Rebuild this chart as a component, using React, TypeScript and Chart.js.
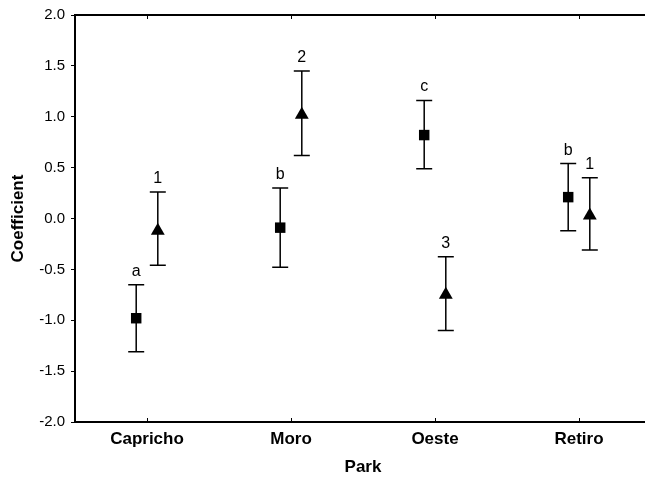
import React, { useEffect, useRef } from "react";
import { Chart, registerables } from "chart.js";

Chart.register(...registerables);

const parks = ["Capricho", "Moro", "Oeste", "Retiro"];

const squareMean = [-0.98, -0.09, 0.82, 0.21];
const squareLow = [-1.31, -0.48, 0.49, -0.12];
const squareHigh = [-0.65, 0.3, 1.16, 0.54];
const squareLabels = ["a", "b", "c", "b"];

const triMean = [-0.12, 1.02, -0.75, 0.03];
const triLow = [-0.46, 0.62, -1.1, -0.31];
const triHigh = [0.26, 1.45, -0.375, 0.4];
const triLabels = ["1", "2", "3", "1"];

const yMin = -2;
const yMax = 2;
const yStep = 0.5;
const groupOffset = 0.075;

const FONT = "'Liberation Sans', Arial, sans-serif";

const errorBarPlugin = {
  id: "errorBars",
  beforeDatasetsDraw(chart: any) {
    const { ctx } = chart;
    const xs = chart.scales.x;
    const ys = chart.scales.y;
    ctx.save();
    ctx.strokeStyle = "#000";
    ctx.lineWidth = 1.5;
    chart.data.datasets.forEach((ds: any) => {
      ds.data.forEach((pt: any, i: number) => {
        const x = xs.getPixelForValue(pt.x);
        const yl = ys.getPixelForValue(ds.errLow[i]);
        const yh = ys.getPixelForValue(ds.errHigh[i]);
        ctx.beginPath();
        ctx.moveTo(x, yl);
        ctx.lineTo(x, yh);
        ctx.moveTo(x - 8, yl);
        ctx.lineTo(x + 8, yl);
        ctx.moveTo(x - 8, yh);
        ctx.lineTo(x + 8, yh);
        ctx.stroke();
      });
    });
    ctx.restore();
  },
  afterDatasetsDraw(chart: any) {
    const { ctx, chartArea } = chart;
    const xs = chart.scales.x;
    const ys = chart.scales.y;
    ctx.save();
    ctx.fillStyle = "#000";
    ctx.font = `16px ${FONT}`;
    ctx.textAlign = "center";
    ctx.textBaseline = "alphabetic";
    chart.data.datasets.forEach((ds: any) => {
      ds.data.forEach((pt: any, i: number) => {
        const x = xs.getPixelForValue(pt.x);
        const yh = ys.getPixelForValue(ds.errHigh[i]);
        ctx.fillText(ds.topLabels[i], x, yh - 9);
      });
    });
    // top frame line
    ctx.strokeStyle = "#000";
    ctx.lineWidth = 2;
    ctx.beginPath();
    ctx.moveTo(chartArea.left - 1, chartArea.top);
    ctx.lineTo(chartArea.right, chartArea.top);
    ctx.stroke();
    // inward ticks on top and bottom
    ctx.lineWidth = 1;
    parks.forEach((_, i) => {
      const x = Math.round(xs.getPixelForValue(i)) + 0.5;
      ctx.beginPath();
      ctx.moveTo(x, chartArea.top);
      ctx.lineTo(x, chartArea.top + 4);
      ctx.moveTo(x, chartArea.bottom);
      ctx.lineTo(x, chartArea.bottom - 4);
      ctx.stroke();
    });
    ctx.restore();
  },
};

export default function App() {
  const ref = useRef<HTMLCanvasElement | null>(null);

  useEffect(() => {
    if (!ref.current) return;
    const chart = new Chart(ref.current, {
      type: "scatter",
      data: {
        datasets: [
          {
            label: "squares",
            data: parks.map((_, i) => ({ x: i - groupOffset, y: squareMean[i] })),
            pointStyle: "rect",
            radius: 7.4,
            hoverRadius: 7.4,
            backgroundColor: "#000",
            borderColor: "#000",
            borderWidth: 0,
            showLine: false,
            errLow: squareLow,
            errHigh: squareHigh,
            topLabels: squareLabels,
          } as any,
          {
            label: "triangles",
            data: parks.map((_, i) => ({ x: i + groupOffset, y: triMean[i] })),
            pointStyle: "triangle",
            radius: 8,
            hoverRadius: 8,
            backgroundColor: "#000",
            borderColor: "#000",
            borderWidth: 0,
            showLine: false,
            errLow: triLow,
            errHigh: triHigh,
            topLabels: triLabels,
          } as any,
        ],
      },
      options: {
        animation: false,
        responsive: false,
        layout: { padding: { top: 15, right: 0, left: 0, bottom: 0 } },
        plugins: {
          legend: { display: false },
          tooltip: { enabled: false },
        },
        scales: {
          x: {
            type: "linear",
            min: -0.5,
            max: 3.5,
            afterBuildTicks: (axis: any) => {
              axis.ticks = parks.map((_, i) => ({ value: i }));
            },
            afterFit: (scale: any) => {
              scale.height = 60;
              scale.paddingLeft = 0;
              scale.paddingRight = 0;
            },
            grid: { display: false, drawTicks: false },
            border: { display: true, color: "#000", width: 2 },
            ticks: {
              color: "#000",
              font: { family: FONT, size: 17, weight: "bold" },
              padding: 7,
              maxRotation: 0,
              autoSkip: false,
              callback: (v: any) => parks[v as number] ?? "",
            },
            title: {
              display: true,
              text: "Park",
              color: "#000",
              font: { family: FONT, size: 17, weight: "bold" },
              padding: { top: 4, bottom: 4 },
            },
          },
          y: {
            min: yMin,
            max: yMax,
            afterFit: (scale: any) => {
              scale.width = 75;
            },
            grid: {
              display: true,
              drawOnChartArea: false,
              drawTicks: true,
              tickLength: 4,
              color: "#000",
              lineWidth: 1,
            },
            border: { display: true, color: "#000", width: 2 },
            ticks: {
              stepSize: yStep,
              color: "#000",
              font: { family: FONT, size: 15 },
              padding: 6,
              callback: (v: any) => Number(v).toFixed(1),
            },
            title: {
              display: true,
              text: "Coefficient",
              color: "#000",
              font: { family: FONT, size: 17, weight: "bold" },
              padding: { top: 8, bottom: 4 },
            },
          },
        },
      },
      plugins: [errorBarPlugin],
    });
    return () => chart.destroy();
  }, []);

  return (
    <div
      style={{
        position: "fixed",
        left: 0,
        top: 0,
        width: 645,
        height: 482,
        overflow: "hidden",
        background: "#fff",
      }}
    >
      <canvas ref={ref} width={659} height={482} style={{ display: "block" }} />
    </div>
  );
}
